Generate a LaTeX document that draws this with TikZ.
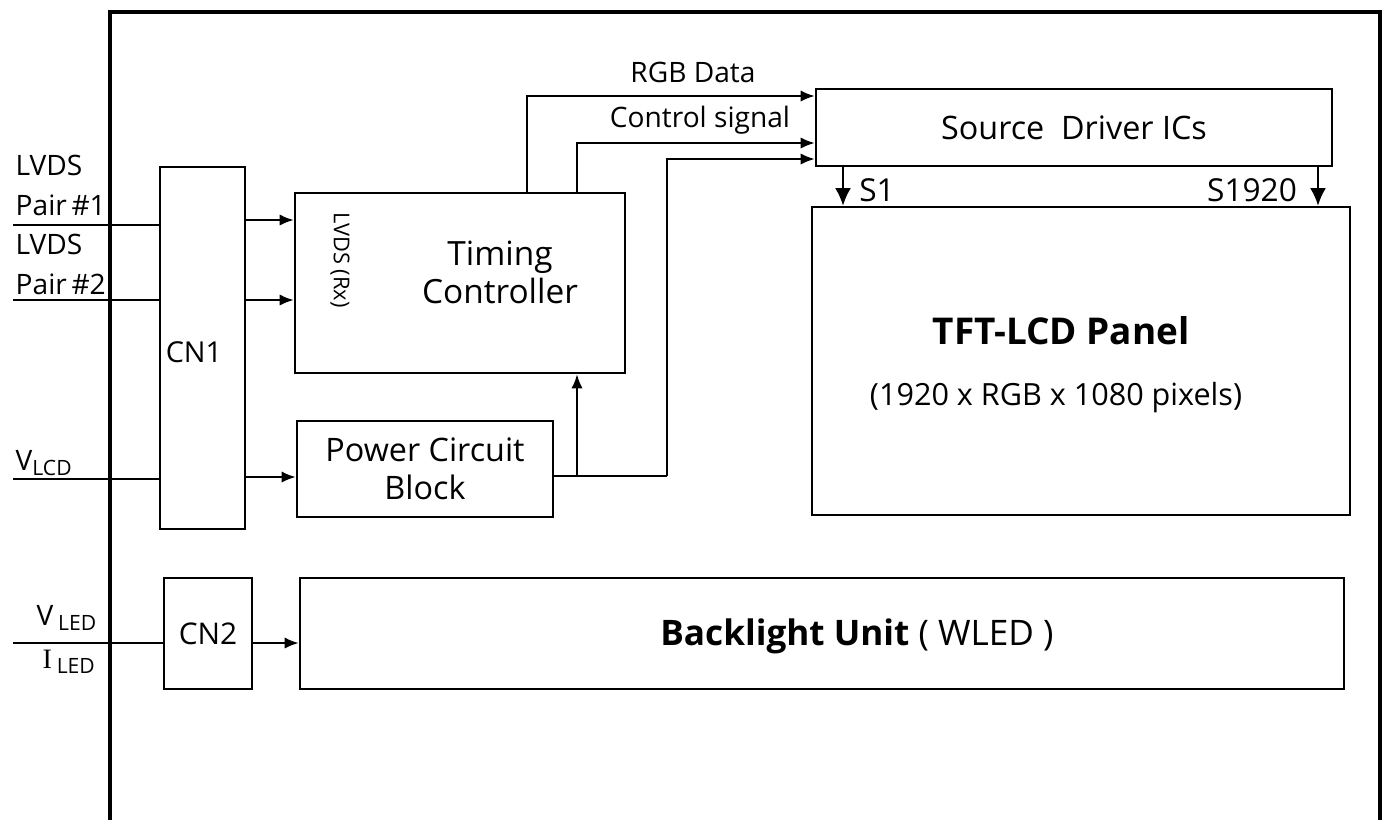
\documentclass[tikz,border=0pt]{standalone}
\usepackage{fontspec}
\setmainfont{Open Sans}
\newfontfamily\serifface{Liberation Serif}
\usetikzlibrary{arrows.meta,calc}
\tikzset{
    box/.style={draw, line width=0.7pt, inner sep=0pt, align=center,
                font=\fontsize{9.2}{10.8}\selectfont},
    flow/.style={-{Latex[length=4pt,width=3.2pt]}, line width=0.6pt},
    srcflow/.style={-{Latex[length=5pt,width=4.5pt]}, line width=0.6pt},
    wire/.style={line width=0.6pt},
    frame/.style={line width=1.4pt},
    note/.style={font=\fontsize{8}{11.4}\selectfont, align=left, inner sep=0pt},
    big/.style={font=\fontsize{9.5}{10.8}\selectfont, align=center, inner sep=0pt},
}

\begin{document}
\begin{tikzpicture}

    \useasboundingbox (0,0) rectangle (13.89,-8.19);
    \draw[frame] (1.10,-8.40) -- (1.10,-0.12) -- (13.80,-0.12) -- (13.80,-8.40);

    % blocks
    \node[box, minimum width=0.85cm, minimum height=3.62cm] (cn1) at (2.025,-3.48) {};
    \node[big, font=\fontsize{8.2}{10}\selectfont] (cn1text) at (1.94,-3.52) {CN1};
    \node[box, minimum width=3.30cm, minimum height=1.80cm] (tcon) at (4.60,-2.83) {};
    \node[big] (tctext) at (5.00,-2.72) {Timing\\Controller};
    \node[big, rotate=-90, font=\fontsize{6.2}{8}\selectfont] (rxtext) at (3.40,-2.60) {LVDS (Rx)};
    \node[box, minimum width=2.56cm, minimum height=0.96cm] (power) at (4.25,-4.69) {Power Circuit\\Block};
    \node[box, minimum width=5.16cm, minimum height=0.77cm] (sdrv) at (10.74,-1.275) {Source\ \ Driver ICs};
    \node[box, minimum width=5.38cm, minimum height=3.08cm] (panel) at (10.81,-3.61) {};
    \node[big, font=\fontsize{10.5}{13}\selectfont\bfseries] (paneltext) at (10.61,-3.31) {TFT-LCD Panel};
    \node[big, font=\fontsize{8.7}{11}\selectfont] (panelres) at (10.56,-3.98) {(1920 x RGB x 1080 pixels)};
    \node[box, minimum width=0.88cm, minimum height=1.11cm, font=\fontsize{8.5}{10}\selectfont] (cn2) at (2.08,-6.335) {CN2};
    \node[box, minimum width=10.44cm, minimum height=1.11cm] (blu) at (8.22,-6.335) {};
    \node[big, font=\fontsize{10}{12}\selectfont] (blutext) at (8.57,-6.36) {\textbf{Backlight Unit} ( WLED )};

    % inputs
    \coordinate (in1) at (0.13,-2.25);
    \coordinate (in2) at (0.13,-3.00);
    \coordinate (in3) at (0.13,-4.79);
    \coordinate (in4) at (0.13,-6.43);
    \node[note, anchor=west] (lvds1) at (0.15,-1.85) {LVDS\\Pair\,\#1};
    \node[note, anchor=west] (lvds2) at (0.15,-2.64) {LVDS\\Pair\,\#2};
    \node[note, anchor=base west] (vlcd) at (0.15,-4.70) {V\textsubscript{LCD}};
    \node[note, anchor=base west] (vled) at (0.36,-6.25) {V\,\textsubscript{LED}};
    \node[note, anchor=base west] (iled) at (0.42,-6.68) {{\serifface I}\,\textsubscript{LED}};
    \draw[wire] (in1) -- (in1 -| cn1.west);
    \draw[wire] (in2) -- (in2 -| cn1.west);
    \draw[wire] (in3) -- (in3 -| cn1.west);
    \draw[wire] (in4) -- (in4 -| cn2.west);

    % CN1 to blocks
    \draw[flow] (cn1.east |- 0,-2.20) -- (tcon.west |- 0,-2.20);
    \draw[flow] (cn1.east |- 0,-3.00) -- (tcon.west |- 0,-3.00);
    \draw[flow] (cn1.east |- 0,-4.77) -- (power.west |- 0,-4.77);
    \draw[flow] (cn2.east |- in4) -- (blu.west |- in4);

    % timing controller to source drivers
    \draw[flow] ([xshift=0.67cm]tcon.north) |- ([yshift=0.315cm]sdrv.west);
    \draw[flow] ([xshift=1.17cm]tcon.north) |- ([yshift=-0.155cm]sdrv.west);
    \node[note] (rgblabel) at (6.93,-0.72) {RGB Data};
    \node[note] (ctrllabel) at (7.00,-1.20) {Control signal};

    % power distribution
    \coordinate (pwrout) at (power.east |- 0,-4.76);
    \coordinate (pwrtap) at (5.77,-4.76);
    \coordinate (pwrbend) at (6.67,-4.76);
    \draw[wire] (pwrout) -- (pwrbend);
    \draw[flow] (pwrbend) |- ([yshift=-0.315cm]sdrv.west);
    \draw[flow] (pwrtap) -- (pwrtap |- tcon.south);

    % source lines
    \coordinate (s1top) at ([xshift=-2.31cm]sdrv.south);
    \coordinate (sntop) at ([xshift=2.44cm]sdrv.south);
    \draw[srcflow] (s1top) -- (s1top |- panel.north);
    \draw[srcflow] (sntop) -- (sntop |- panel.north);
    \node[big, font=\fontsize{9}{10}\selectfont] (s1label) at (8.77,-1.90) {S1};
    \node[big, font=\fontsize{9}{10}\selectfont] (snlabel) at (12.52,-1.90) {S1920};

\end{tikzpicture}
\end{document}
